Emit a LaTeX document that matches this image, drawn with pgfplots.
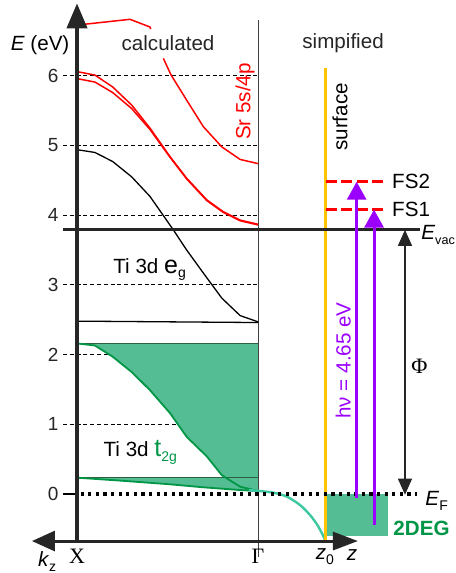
\documentclass[border=0pt]{standalone}
\usepackage{fontspec}
\setmainfont{Liberation Sans}
\newfontfamily\serif{Liberation Serif}
\usepackage{pgfplots}
\pgfplotsset{compat=1.18}
\usetikzlibrary{arrows.meta}
\definecolor{tgreen}{RGB}{84,189,147}
\definecolor{dgreen}{RGB}{0,150,70}
\definecolor{rgreen}{RGB}{45,95,65}
\definecolor{lgreen}{RGB}{60,200,160}
\definecolor{syellow}{RGB}{255,195,0}
\definecolor{ppurple}{RGB}{155,0,255}
\newcommand{\lab}{\fontsize{10.3}{12}\selectfont}
\newcommand{\sub}[1]{\raisebox{-0.45ex}{\fontsize{7}{8}\selectfont #1}}
\begin{document}
\begin{tikzpicture}
\begin{axis}[x=90.5pt, y=34.85pt, xmin=-0.4254, xmax=2.0939, ymin=-1.1334, ymax=7.0875,
  hide axis, clip=false, no marks]
\coordinate (bl) at (axis cs:-0.4254,-1.1334);
\coordinate (tr) at (axis cs:2.0939,7.0875);
% dashed grid
\addplot[black, line width=0.5pt, dash pattern=on 2pt off 1.4pt] coordinates {(-0.077,1) (1,1)};
\addplot[black, line width=0.5pt, dash pattern=on 2pt off 1.4pt] coordinates {(-0.077,2) (1,2)};
\addplot[black, line width=0.5pt, dash pattern=on 2pt off 1.4pt] coordinates {(-0.077,3) (1,3)};
\addplot[black, line width=0.5pt, dash pattern=on 2pt off 1.4pt] coordinates {(-0.077,4) (1,4)};
\addplot[black, line width=0.5pt, dash pattern=on 2pt off 1.4pt] coordinates {(-0.077,5) (1,5)};
\addplot[black, line width=0.5pt, dash pattern=on 2pt off 1.4pt] coordinates {(-0.077,6) (1,6)};
\addplot[black, line width=0.6pt] coordinates {(-0.077,0) (0,0)};
% t2g green areas
\addplot[fill=tgreen, draw=none] coordinates {(0,2.16) (1,2.16) (1,0.043) (0.901,0.105) (0.8,0.27) (0.717,0.54) (0.606,0.82) (0.514,1.16) (0.403,1.49) (0.302,1.75) (0.197,1.97) (0.099,2.13) (0,2.16)} -- cycle;
\addplot[fill=tgreen, draw=none] coordinates {(0,0.234) (1,0.234) (1,0.043) (0.9,0.057) (0.698,0.096) (0.514,0.139) (0.25,0.19) (0,0.234)} -- cycle;
\addplot[rgreen, line width=0.6pt] coordinates {(0,2.16) (1,2.16)};
\addplot[rgreen, line width=0.6pt] coordinates {(0,0.234) (1,0.234)};
\addplot[dgreen, line width=0.9pt] coordinates {(0,2.16) (0.099,2.13) (0.197,1.97) (0.302,1.75) (0.403,1.49) (0.514,1.16) (0.606,0.82) (0.717,0.54) (0.8,0.27) (0.901,0.105) (1,0.043)};
\addplot[dgreen, line width=0.9pt] coordinates {(0,0.234) (0.25,0.19) (0.514,0.139) (0.698,0.096) (0.9,0.057) (1,0.043)};
% Gamma line
\addplot[black!75, line width=0.5pt] coordinates {(1,6.8) (1,-0.9)};
% red Sr bands
\addplot[red, line width=0.75pt] coordinates {(0,6.06) (0.099,6.01) (0.197,5.84) (0.302,5.58) (0.403,5.25) (0.514,4.84) (0.606,4.53) (0.717,4.22) (0.808,4.05) (0.901,3.93) (1.0,3.87)};
\addplot[red, line width=0.75pt] coordinates {(0,5.96) (0.099,5.91) (0.197,5.76) (0.302,5.53) (0.403,5.23) (0.514,4.83) (0.606,4.52) (0.717,4.21) (0.808,4.04) (0.901,3.92) (1.0,3.86)};
\addplot[red, line width=0.75pt] coordinates {(0.477,6.25) (0.52,6.01) (0.606,5.65) (0.698,5.27) (0.8,4.98) (0.901,4.80) (1.0,4.74)};
\addplot[red, line width=0.75pt] coordinates {(0.044,6.74) (0.293,6.81) (0.403,6.70) (0.407,6.67)};
% eg bands
\addplot[black, line width=0.65pt] coordinates {(0,4.94) (0.099,4.90) (0.197,4.77) (0.302,4.55) (0.403,4.27) (0.532,3.79) (0.606,3.50) (0.698,3.17) (0.8,2.81) (0.901,2.56) (1.0,2.47)};
\addplot[black, line width=0.65pt] coordinates {(0,2.48) (0.5,2.47) (1.0,2.46)};
% 2DEG box and surface curve
\addplot[fill=tgreen, draw=none] coordinates {(1.379,0) (1.717,0) (1.717,-0.6) (1.379,-0.6)} -- cycle;
\addplot[lgreen, line width=1.2pt, smooth] coordinates {(0.95,0.055) (0.993,0.047) (1.085,0.019) (1.159,-0.038) (1.232,-0.158) (1.287,-0.301) (1.328,-0.445) (1.361,-0.603) (1.37,-0.66)};
% surface line
\addplot[syellow, line width=1.6pt] coordinates {(1.372,6.11) (1.372,-0.66)};
% E_vac
\addplot[black!85, line width=1.6pt] coordinates {(-0.077,3.79) (1.895,3.79)};
% E_F
\addplot[black, line width=1.6pt, dash pattern=on 1.6pt off 2.2pt] coordinates {(0.02,0) (1.877,0)};
% FS levels
\addplot[red, line width=1.5pt, dash pattern=on 5.5pt off 2.2pt] coordinates {(1.376,4.48) (1.714,4.48)};
\addplot[red, line width=1.5pt, dash pattern=on 5.5pt off 2.2pt] coordinates {(1.376,4.08) (1.714,4.08)};
% photon arrows
\addplot[ppurple, line width=1.5pt, -{Triangle[length=9pt,width=9.5pt]}] coordinates {(1.545,-0.06) (1.545,4.48)};
\addplot[ppurple, line width=1.5pt, -{Triangle[length=9pt,width=9.5pt]}] coordinates {(1.641,-0.45) (1.641,4.08)};
% work function arrow
\addplot[black!85, line width=0.6pt, {Triangle[length=8pt,width=7pt]}-{Triangle[length=8pt,width=7pt]}] coordinates {(1.812,3.79) (1.812,-0.01)};
% axes
\addplot[black!85, line width=2pt, -{Triangle[length=12.5pt,width=10pt]}] coordinates {(0,-0.675) (0,7.04)};
\addplot[black!85, line width=1.5pt, {Triangle[length=11.5pt,width=10pt]}-{Triangle[length=12.5pt,width=9pt]}] coordinates {(-0.249,-0.675) (1.552,-0.675)};
% tick labels
\foreach \v in {0,...,6}{
  \edef\temp{\noexpand\node[anchor=east, inner sep=0pt, font=\noexpand\fontsize{9.5}{11}\noexpand\selectfont, text=black!85] at (axis cs:-0.1,\v) {\v};}
  \temp
}
% labels
\node[font=\lab] at (axis cs:-0.204,6.44) {\textit{E} (eV)};
\node[font=\lab, text=black!85] at (axis cs:0.503,6.47) {calculated};
\node[font=\lab, text=black!85] at (axis cs:1.47,6.47) {simpified};
\node[font=\lab, text=red, rotate=90] at (axis cs:0.928,5.63) {Sr 5s/4p};
\node[font=\lab, anchor=base west, inner sep=0pt] at (axis cs:0.199,3.17) {Ti 3d {\fontsize{12.5}{14}\selectfont e}\sub{g}};
\node[font=\lab, anchor=base west, inner sep=0pt] at (axis cs:0.145,0.535) {Ti 3d \textcolor{dgreen}{{\fontsize{12.5}{14}\selectfont t}\sub{2g}}};
\node[font=\lab, rotate=90] at (axis cs:1.453,5.41) {surface};
\node[font=\lab, anchor=west, inner sep=0pt] at (axis cs:1.739,4.48) {FS2};
\node[font=\lab, anchor=west, inner sep=0pt] at (axis cs:1.739,4.08) {FS1};
\node[font=\lab, anchor=west, inner sep=0pt] at (axis cs:1.9,3.72) {\textit{E}\raisebox{-0.45ex}{\fontsize{6.3}{7}\selectfont vac}};
\node[font=\lab, anchor=west, inner sep=0pt] at (axis cs:1.923,-0.1) {\textit{E}\sub{F}};
\node[font=\serif\fontsize{11}{13}\selectfont] at (axis cs:1.892,1.83) {Φ};
\node[font=\lab\bfseries, text=dgreen, anchor=west, inner sep=0pt] at (axis cs:1.746,-0.49) {2DEG};
\node[font=\lab, text=ppurple, rotate=90] at (axis cs:1.471,1.915) {hν = 4.65 eV};
\node[font=\serif\fontsize{11}{13}\selectfont] at (axis cs:0,-0.9) {X};
\node[font=\serif\fontsize{11}{13}\selectfont] at (axis cs:1,-0.9) {Γ};
\node[font=\lab] at (axis cs:-0.165,-0.97) {\textit{k}\sub{z}};
\node[font=\lab] at (axis cs:1.37,-0.9) {\textit{z}\sub{0}};
\node[font=\lab] at (axis cs:1.519,-0.88) {\textit{z}};
\end{axis}
\pgfresetboundingbox
\useasboundingbox (bl) rectangle (tr);
\end{tikzpicture}
\end{document}
